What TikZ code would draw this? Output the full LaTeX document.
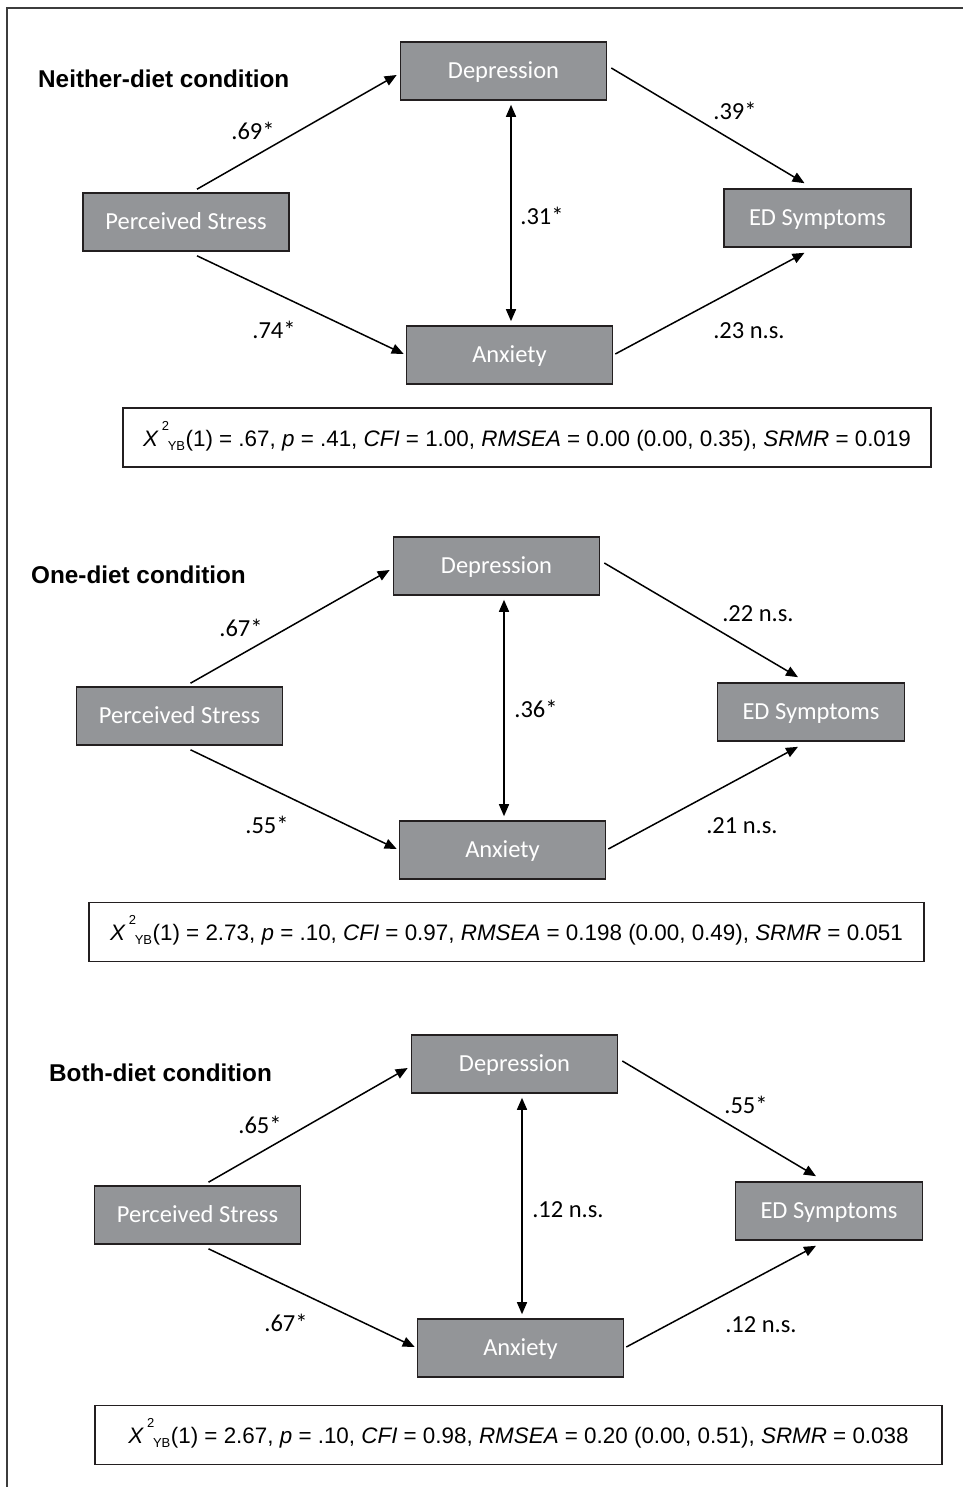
\documentclass[tikz,border=0pt]{standalone}
\usepackage{fontspec}
\setmainfont{Carlito}
\newfontfamily\arialfont{Liberation Sans}
\usetikzlibrary{arrows.meta}
\definecolor{boxgray}{RGB}{147,149,152}
\definecolor{boxline}{RGB}{35,31,32}
\definecolor{framegray}{RGB}{60,60,60}
\newcommand{\chiyb}{\textit{X}\hspace{3pt}\rlap{\raisebox{16pt}{\fontsize{13}{13}\selectfont 2}}\hspace{6pt}\raisebox{-4pt}{\fontsize{13}{13}\selectfont YB}\hspace{0.5pt}}
\tikzset{
  varbox/.style={draw=boxline, fill=boxgray, line width=1.6pt, text=white,
    minimum width=206pt, minimum height=58pt, inner sep=0pt,
    text height=15.5pt, text depth=0pt, font=\fontsize{24.5}{28}\selectfont},
  edbox/.style={varbox, minimum width=187pt},
  coef/.style={inner sep=0pt, text height=15.5pt, text depth=0pt,
    font=\fontsize{24.5}{28}\selectfont},
  heading/.style={anchor=base west, inner sep=0pt,
    font=\arialfont\bfseries\fontsize{24.3}{28}\selectfont},
  fitbox/.style={draw=boxline, fill=white, line width=1.3pt, minimum height=59pt,
    inner sep=0pt, text height=17pt, text depth=0pt,
    font=\arialfont\fontsize{22.4}{26}\selectfont},
  effect/.style={line width=1.5pt, -{Triangle[length=12pt,width=10pt]}},
  covar/.style={line width=1.5pt, {Triangle[length=12pt,width=10pt]}-{Triangle[length=12pt,width=10pt]}}
}
\begin{document}
\begin{tikzpicture}[x=1pt,y=-1pt]
  \useasboundingbox (0,0) rectangle (963,1487);
  \draw[line width=1.5pt, framegray] (7,1487) -- (7,8) -- (963,8);

  % neither-diet condition
  \path
    (38,88) node[heading] (head1) {Neither-diet condition}
    (503.5,71) node[varbox] (dep1) {Depression}
    (186,222) node[varbox] (ps1) {Perceived Stress}
    (817.5,218) node[edbox] (ed1) {ED Symptoms}
    (509.5,355) node[varbox] (anx1) {Anxiety};
  \begin{scope}[effect]
    \draw ([xshift=11pt,yshift=3pt]ps1.north) to ([xshift=-3pt,yshift=-4pt]dep1.west);
    \draw ([xshift=4pt,yshift=3pt]dep1.east) to ([xshift=-13pt,yshift=5pt]ed1.north);
    \draw ([xshift=11pt,yshift=-4pt]ps1.south) to ([xshift=-2pt,yshift=1pt]anx1.west);
    \draw ([xshift=2pt,yshift=1pt]anx1.east) to ([xshift=-13pt,yshift=-5pt]ed1.south);
    \draw[covar] ([xshift=7.5pt,yshift=-4pt]dep1.south) to ([xshift=1.5pt,yshift=4pt]anx1.north);
  \end{scope}
  \path
    (253,132) node[coef] (c1sd) {.69*}
    (735,112) node[coef] (c1de) {.39*}
    (542,217) node[coef] (c1da) {.31*}
    (274,331) node[coef] (c1sa) {.74*}
    (749,331) node[coef] (c1ae) {.23 n.s.}
    (527,437.5) node[fitbox, minimum width=808pt] (fit1)
      {\chiyb(1) = .67, \textit{p} = .41, \textit{CFI} = 1.00, \textit{RMSEA} = 0.00 (0.00, 0.35), \textit{SRMR} = 0.019};

  % one-diet condition
  \path
    (31,583) node[heading] (head2) {One-diet condition}
    (496.5,566) node[varbox] (dep2) {Depression}
    (179.5,716) node[varbox] (ps2) {Perceived Stress}
    (811,712) node[edbox] (ed2) {ED Symptoms}
    (502.5,850) node[varbox] (anx2) {Anxiety};
  \begin{scope}[effect]
    \draw ([xshift=11pt,yshift=3pt]ps2.north) to ([xshift=-3pt,yshift=-4pt]dep2.west);
    \draw ([xshift=4pt,yshift=3pt]dep2.east) to ([xshift=-13pt,yshift=5pt]ed2.north);
    \draw ([xshift=11pt,yshift=-4pt]ps2.south) to ([xshift=-2pt,yshift=1pt]anx2.west);
    \draw ([xshift=2pt,yshift=1pt]anx2.east) to ([xshift=-13pt,yshift=-5pt]ed2.south);
    \draw[covar] ([xshift=7.5pt,yshift=-4pt]dep2.south) to ([xshift=1.5pt,yshift=4pt]anx2.north);
  \end{scope}
  \path
    (241,629) node[coef] (c2sd) {.67*}
    (758,614) node[coef] (c2de) {.22 n.s.}
    (536,710) node[coef] (c2da) {.36*}
    (267,826) node[coef] (c2sa) {.55*}
    (742,826) node[coef] (c2ae) {.21 n.s.}
    (506.5,932) node[fitbox, minimum width=835pt] (fit2)
      {\chiyb(1) = 2.73, \textit{p} = .10, \textit{CFI} = 0.97, \textit{RMSEA} = 0.198 (0.00, 0.49), \textit{SRMR} = 0.051};

  % both-diet condition
  \path
    (49,1081) node[heading] (head3) {Both-diet condition}
    (514.5,1064) node[varbox] (dep3) {Depression}
    (197.5,1215) node[varbox] (ps3) {Perceived Stress}
    (829,1211) node[edbox] (ed3) {ED Symptoms}
    (520.5,1348) node[varbox] (anx3) {Anxiety};
  \begin{scope}[effect]
    \draw ([xshift=11pt,yshift=3pt]ps3.north) to ([xshift=-3pt,yshift=-4pt]dep3.west);
    \draw ([xshift=4pt,yshift=3pt]dep3.east) to ([xshift=-13pt,yshift=5pt]ed3.north);
    \draw ([xshift=11pt,yshift=-4pt]ps3.south) to ([xshift=-2pt,yshift=1pt]anx3.west);
    \draw ([xshift=2pt,yshift=1pt]anx3.east) to ([xshift=-13pt,yshift=-5pt]ed3.south);
    \draw[covar] ([xshift=7.5pt,yshift=-4pt]dep3.south) to ([xshift=1.5pt,yshift=4pt]anx3.north);
  \end{scope}
  \path
    (260,1126) node[coef] (c3sd) {.65*}
    (746,1106) node[coef] (c3de) {.55*}
    (568,1210) node[coef] (c3da) {.12 n.s.}
    (286,1324) node[coef] (c3sa) {.67*}
    (761,1325) node[coef] (c3ae) {.12 n.s.}
    (518.5,1435) node[fitbox, minimum width=847pt] (fit3)
      {\chiyb(1) = 2.67, \textit{p} = .10, \textit{CFI} = 0.98, \textit{RMSEA} = 0.20 (0.00, 0.51), \textit{SRMR} = 0.038};
\end{tikzpicture}
\end{document}
